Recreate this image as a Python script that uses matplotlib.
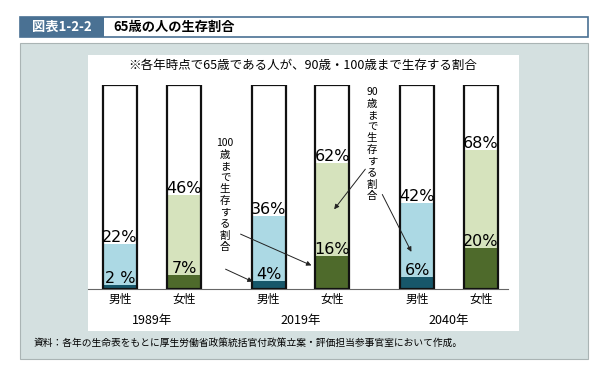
import matplotlib.pyplot as plt
from matplotlib.patches import Rectangle

plt.rcParams['font.family'] = ['Noto Sans CJK JP', 'DejaVu Sans']

# data
years = ['1989年', '2019年', '2040年']
sexes = ['男性', '女性']
to90 = [22, 46, 36, 62, 42, 68]    # 90歳まで生存する割合 (%)
to100 = [2, 7, 4, 16, 6, 20]       # 100歳まで生存する割合 (%)

W, H = 602, 383
fig = plt.figure(figsize=(W / 100, H / 100), dpi=100)


def box(x0, y0, x1, y1, **kw):
    # rectangle in pixel coords (origin top-left), kept behind the axes
    fig.patches.append(Rectangle((x0 / W, 1 - y1 / H), (x1 - x0) / W, (y1 - y0) / H,
                                 transform=fig.transFigure, zorder=-1, **kw))


# header
box(20, 17, 588, 37, facecolor='white', edgecolor='#4a7193', linewidth=1.2)
box(20, 17, 104, 37, facecolor='#4a7193', edgecolor='none')
fig.text(62 / W, 1 - 27 / H, '図表1-2-2', color='white', fontsize=9.5, fontweight='bold',
         ha='center', va='center')
fig.text(113 / W, 1 - 27 / H, '65歳の人の生存割合', color='black', fontsize=9.5,
         fontweight='bold', ha='left', va='center')

# gray panel and white chart area
box(20, 43, 588, 359, facecolor='#d4e0e0', edgecolor='#aab4b4', linewidth=0.8)
box(88, 55, 519, 331, facecolor='white', edgecolor='none')
fig.text(303 / W, 1 - 65 / H, '※各年時点で65歳である人が、90歳・100歳まで生存する割合',
         fontsize=9, ha='center', va='center')
fig.text(34 / W, 1 - 343 / H, '資料：各年の生命表をもとに厚生労働省政策統括官付政策立案・評価担当参事官室において作成。',
         fontsize=7, ha='left', va='center')

# chart axes: x 88..508 px, y 85..289 px (0..100%)
ax = fig.add_axes([88 / W, 1 - 289 / H, 420 / W, 204 / H])
ax.patch.set_alpha(0)
ax.set_xlim(-0.431, 2.397)
ax.set_ylim(0, 100)

pos = []
for g in range(len(years)):
    pos += [g - 0.215, g + 0.215]
bw = 0.229

male_cols = ('#acd9e4', '#17576a')
female_cols = ('#d6e3bd', '#4e6a2b')
for i, x in enumerate(pos):
    light, dark = male_cols if i % 2 == 0 else female_cols
    ax.bar(x, 100, bw, color='white', edgecolor='none', zorder=1)
    ax.bar(x, to90[i], bw, color=light, edgecolor='none', zorder=2)
    ax.bar(x, to100[i], bw, color=dark, edgecolor='none', zorder=3)
    ax.bar(x, 100, bw, color='none', edgecolor='#111111', linewidth=1.6, zorder=4)
    ax.text(x, to90[i] - 0.5, f'{to90[i]}%', ha='center', va='bottom', fontsize=11.5,
            family='DejaVu Sans', zorder=5)
    lab = f'{to100[i]} %' if to100[i] < 3 else f'{to100[i]}%'
    ax.text(x, to100[i] - 0.5, lab, ha='center', va='bottom', fontsize=11.5,
            family='DejaVu Sans', zorder=5)

ax.set_xticks(pos)
ax.set_xticklabels(sexes * len(years), fontsize=8.5)
ax.tick_params(axis='x', length=0, pad=3)
ax.set_yticks([])
for s in ['top', 'right', 'left']:
    ax.spines[s].set_visible(False)
ax.spines['bottom'].set_color('#666666')
ax.spines['bottom'].set_linewidth(0.8)

for g, yr in enumerate(years):
    ax.text(g, -15.5, yr, ha='center', va='center', fontsize=9)


def px(xp, yp):
    return ((xp - 152) / 148.5, (289 - yp) / 2.04)


# annotations
lbl90 = '90\n' + '\n'.join('歳まで生存する割合')
lbl100 = '100\n' + '\n'.join('歳まで生存する割合')
ax.text(*px(372, 87), lbl90, ha='center', va='top', fontsize=7.5, linespacing=1.2)
ax.text(*px(225, 138), lbl100, ha='center', va='top', fontsize=7.5, linespacing=1.2)

arrow = dict(arrowstyle='-|>', color='#222222', lw=0.7, mutation_scale=7)
ax.annotate('', xy=(pos[3], 38), xytext=px(367, 167), arrowprops=arrow, zorder=6)
ax.annotate('', xy=(pos[4] - 0.03, 17), xytext=px(381, 192), arrowprops=arrow, zorder=6)
ax.annotate('', xy=(pos[3] - bw / 2 - 0.01, 11), xytext=px(238, 233), arrowprops=arrow, zorder=6)
ax.annotate('', xy=(pos[2] - 0.09, 3), xytext=px(223, 268), arrowprops=arrow, zorder=6)

fig.savefig('out.png', dpi=100)
